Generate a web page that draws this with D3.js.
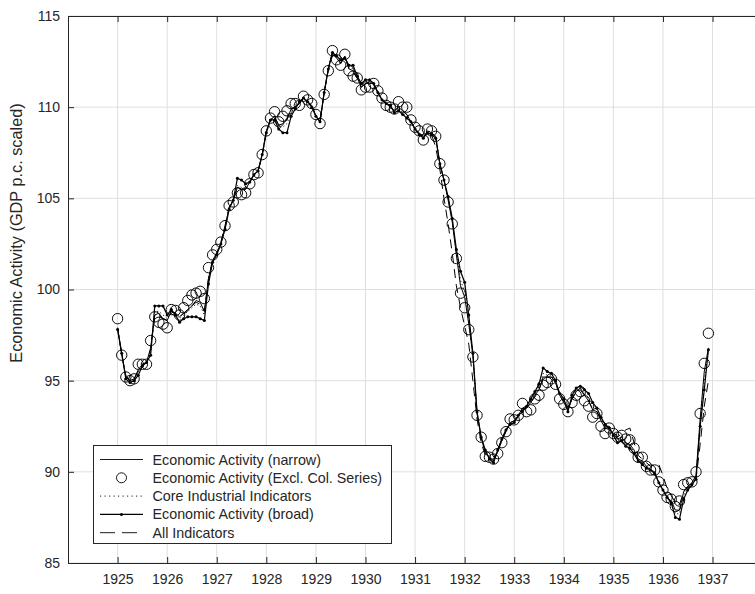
<!DOCTYPE html>
<html>
<head>
<meta charset="utf-8">
<script src="https://cdn.jsdelivr.net/npm/d3@7"></script>
<style>
  html, body { margin: 0; padding: 0; background: #fff; }
  svg { display: block; }
  text { font-family: "Liberation Sans", Arial, Helvetica, sans-serif; fill: #262626; }
</style>
</head>
<body>
<svg id="chart" width="755" height="594"></svg>
<script>
// ---- Data (monthly, Jan 1925 .. Dec 1936) ----
const startYear = 1925;
const xTicks = [1925, 1926, 1927, 1928, 1929, 1930, 1931, 1932, 1933, 1934, 1935, 1936, 1937];
const yTicks = [85, 90, 95, 100, 105, 110, 115];
const seriesNames = ["Economic Activity (narrow)", "Economic Activity (Excl. Col. Series)",
                     "Core Industrial Indicators", "Economic Activity (broad)", "All Indicators"];

const narrow = [
  97.9, 96.5, 95.2, 95.0, 95.1, 95.6, 95.9, 96.0, 96.8, 98.6, 98.7, 98.4,
  98.3, 98.8, 98.7, 98.5, 98.7, 98.9, 99.1, 99.4, 99.3, 98.8, 100.6, 101.6,
  102.0, 102.5, 103.4, 104.5, 104.9, 105.6, 105.5, 105.5, 105.9, 106.3, 106.5, 107.4,
  108.7, 109.3, 109.5, 109.0, 109.1, 109.3, 109.9, 110.0, 110.2, 110.5, 110.3, 110.1,
  109.5, 109.2, 110.8, 112.1, 113.0, 112.7, 112.4, 112.8, 112.1, 112.0, 111.6, 111.1,
  111.3, 111.3, 111.3, 110.8, 110.4, 110.2, 110.0, 109.8, 110.0, 109.8, 109.6, 109.2,
  108.8, 108.6, 108.3, 108.7, 108.6, 108.4, 106.9, 106.0, 104.9, 103.7, 101.9, 100.2,
  99.6, 98.1, 96.4, 93.2, 91.9, 91.0, 90.8, 90.6, 91.1, 91.7, 92.2, 92.7,
  92.8, 93.1, 93.5, 93.5, 93.8, 94.2, 94.5, 95.2, 95.2, 95.2, 94.9, 94.2,
  93.8, 93.4, 94.0, 94.4, 94.6, 94.2, 93.9, 93.4, 93.3, 92.8, 92.4, 92.4,
  92.1, 91.8, 91.9, 91.6, 91.5, 91.2, 90.7, 90.6, 90.3, 90.1, 90.0, 89.4,
  89.0, 88.6, 88.4, 87.9, 87.9, 88.9, 89.2, 89.4, 89.8, 92.9, 95.5, 96.8
];
const exclCol = [
  98.4, 96.4, 95.2, 95.0, 95.1, 95.9, 95.9, 95.9, 97.2, 98.5, 98.2, 98.1,
  97.9, 98.9, 98.85, 98.6, 99.0, 99.4, 99.7, 99.8, 99.9, 99.5, 101.2, 101.9,
  102.2, 102.6, 103.5, 104.6, 104.8, 105.3, 105.2, 105.3, 105.8, 106.3, 106.4, 107.4,
  108.7, 109.4, 109.75, 109.2, 109.5, 109.8, 110.2, 110.2, 110.1, 110.6, 110.4, 110.2,
  109.6, 109.1, 110.7, 112.0, 113.1, 112.6, 112.3, 112.9, 112.0, 111.7, 111.6, 110.95,
  111.1, 111.1, 111.3, 110.9, 110.5, 110.1, 110.0, 109.9, 110.3, 110.0, 110.0, 109.3,
  108.9, 108.7, 108.2, 108.8, 108.7, 108.4, 106.9, 106.0, 104.8, 103.6, 101.7, 99.8,
  99.0, 97.8, 96.3, 93.1, 91.9, 90.85, 90.8, 90.7, 91.0, 91.6, 92.2, 92.9,
  92.85, 93.1, 93.75, 93.3, 93.4, 94.0, 94.2, 94.75, 94.9, 95.1, 94.8, 94.0,
  93.7, 93.3, 93.8, 94.2, 94.4, 93.9, 93.6, 93.0, 93.2, 92.5, 92.1, 92.4,
  92.1, 91.9, 92.0, 91.8, 91.75, 91.3, 90.8, 90.8, 90.3, 90.1, 90.1, 89.45,
  89.0, 88.6, 88.5, 88.1, 88.4, 89.3, 89.4, 89.45, 90.0, 93.2, 95.95, 97.6
];
const coreInd = [
  97.8, 96.5, 95.2, 95.0, 95.1, 95.5, 95.8, 96.0, 96.6, 98.8, 98.8, 98.6,
  98.4, 98.8, 98.6, 98.4, 98.6, 98.8, 99.0, 99.2, 99.1, 98.6, 100.5, 101.6,
  101.9, 102.5, 103.4, 104.5, 104.9, 105.7, 105.6, 105.5, 105.9, 106.3, 106.5, 107.4,
  108.6, 109.3, 109.4, 108.9, 108.9, 109.1, 109.7, 110.0, 110.2, 110.5, 110.3, 110.1,
  109.5, 109.2, 110.8, 112.1, 113.0, 112.8, 112.5, 112.7, 112.2, 112.1, 111.6, 111.2,
  111.4, 111.4, 111.3, 110.8, 110.4, 110.2, 110.1, 109.8, 109.9, 109.7, 109.5, 109.2,
  108.8, 108.6, 108.3, 108.7, 108.6, 108.4, 106.9, 106.0, 105.0, 103.8, 102.0, 100.5,
  99.9, 98.3, 96.4, 93.2, 91.9, 91.1, 90.8, 90.6, 91.1, 91.7, 92.2, 92.7,
  92.8, 93.1, 93.4, 93.5, 93.9, 94.3, 94.6, 95.4, 95.3, 95.3, 94.9, 94.2,
  93.9, 93.4, 94.1, 94.5, 94.6, 94.3, 94.0, 93.6, 93.4, 92.9, 92.5, 92.4,
  92.1, 91.7, 91.8, 91.5, 91.4, 91.1, 90.7, 90.5, 90.3, 90.1, 89.9, 89.4,
  89.0, 88.6, 88.4, 87.7, 87.7, 88.7, 89.1, 89.4, 89.7, 92.7, 95.0, 96.7
];
const broad = [
  97.8, 96.5, 95.1, 94.9, 95.0, 95.3, 95.8, 96.0, 96.4, 99.1, 99.1, 99.1,
  98.6, 98.9, 98.6, 98.2, 98.4, 98.5, 98.5, 98.5, 98.4, 98.3, 100.3, 101.5,
  101.9, 102.5, 103.3, 104.4, 104.9, 106.1, 106.0, 105.8, 105.9, 106.3, 106.5, 107.4,
  108.6, 109.3, 109.3, 108.8, 108.6, 108.6, 109.5, 109.9, 110.3, 110.5, 110.3, 110.0,
  109.5, 109.2, 110.8, 112.1, 113.0, 112.8, 112.6, 112.7, 112.3, 112.3, 111.7, 111.3,
  111.5, 111.5, 111.3, 110.8, 110.4, 110.2, 110.1, 109.7, 109.8, 109.6, 109.4, 109.2,
  108.8, 108.5, 108.3, 108.6, 108.5, 108.3, 106.9, 106.0, 105.1, 103.9, 102.2, 101.0,
  100.4, 98.6, 96.5, 93.3, 91.9, 91.2, 90.7, 90.5, 91.2, 91.8, 92.3, 92.6,
  92.7, 93.1, 93.3, 93.6, 94.0, 94.4, 94.8, 95.7, 95.5, 95.4, 95.0, 94.3,
  94.0, 93.3, 94.2, 94.6, 94.7, 94.5, 94.3, 93.8, 93.5, 93.0, 92.6, 92.4,
  92.0, 91.6, 91.7, 91.4, 91.3, 91.0, 90.6, 90.4, 90.2, 90.1, 89.9, 89.4,
  89.0, 88.6, 88.3, 87.5, 87.4, 88.5, 89.0, 89.3, 89.6, 92.5, 94.5, 96.7
];
const allInd = [
  97.9, 96.4, 95.3, 95.0, 95.1, 95.5, 95.9, 96.0, 96.7, 98.6, 98.6, 98.4,
  98.3, 98.8, 98.7, 98.5, 98.7, 98.9, 99.1, 99.3, 99.2, 98.8, 100.6, 101.6,
  102.0, 102.6, 103.5, 104.5, 104.9, 105.6, 105.5, 105.5, 105.9, 106.3, 106.5, 107.3,
  108.7, 109.3, 109.5, 109.0, 109.1, 109.4, 109.9, 110.0, 110.2, 110.5, 110.3, 110.1,
  109.5, 109.3, 110.8, 112.0, 112.9, 112.7, 112.4, 112.8, 112.1, 111.9, 111.6, 111.1,
  111.3, 111.3, 111.2, 110.8, 110.4, 110.2, 110.0, 109.8, 110.0, 109.8, 109.6, 109.2,
  108.8, 108.6, 108.4, 108.6, 108.5, 107.8, 106.6, 105.0, 103.6, 102.0, 100.2, 99.0,
  98.0, 97.0, 95.0, 92.9, 91.6, 90.9, 90.7, 90.7, 91.2, 91.8, 92.3, 92.7,
  92.8, 93.0, 93.4, 93.5, 93.8, 94.1, 94.5, 95.1, 95.2, 95.2, 94.9, 94.3,
  93.9, 93.5, 94.0, 94.4, 94.5, 94.2, 93.9, 93.4, 93.3, 92.9, 92.5, 92.5,
  92.2, 91.9, 92.1, 92.3, 92.4, 91.6, 90.9, 90.7, 90.5, 90.3, 90.4, 90.4,
  89.8, 89.1, 88.7, 88.3, 88.2, 88.9, 89.2, 89.4, 89.6, 91.5, 93.6, 95.0
];

// ---- Layout ----
const W = 755, H = 594;
const pLeft = 68, pTop = 16, pBottom = 563;
const svg = d3.select("#chart");

const x = d3.scaleLinear().domain([1924, 1938]).range([pLeft, pLeft + 14 * 49.58]);
const y = d3.scaleLinear().domain([85, 115]).range([pBottom, pTop]);
const tOf = i => startYear + i / 12;

svg.append("defs").append("clipPath").attr("id", "plotclip")
  .append("rect").attr("x", pLeft).attr("y", pTop).attr("width", W - pLeft).attr("height", pBottom - pTop);

// grid
const grid = svg.append("g");
grid.selectAll("line.gx").data(xTicks).join("line")
  .attr("x1", d => x(d)).attr("x2", d => x(d)).attr("y1", pTop).attr("y2", pBottom)
  .attr("stroke", "#dfdfdf").attr("stroke-width", 1);
grid.selectAll("line.gy").data(yTicks).join("line")
  .attr("x1", pLeft).attr("x2", W).attr("y1", d => y(d)).attr("y2", d => y(d))
  .attr("stroke", "#dfdfdf").attr("stroke-width", 1);

// axes
const axCol = "#262626";
const xAxisB = svg.append("g").attr("transform", `translate(0,${pBottom})`)
  .call(d3.axisBottom(x).tickValues(xTicks).tickFormat(d3.format("d"))
        .tickSizeInner(-6).tickSizeOuter(0).tickPadding(11));
const xAxisT = svg.append("g").attr("transform", `translate(0,${pTop})`)
  .call(d3.axisTop(x).tickValues(xTicks).tickFormat("").tickSizeInner(-6).tickSizeOuter(0));
const yAxisL = svg.append("g").attr("transform", `translate(${pLeft},0)`)
  .call(d3.axisLeft(y).tickValues(yTicks).tickSizeInner(-6).tickSizeOuter(0).tickPadding(8));
[xAxisB, xAxisT, yAxisL].forEach(g => {
  g.select(".domain").attr("stroke", axCol);
  g.selectAll(".tick line").attr("stroke", axCol);
  g.selectAll("text").attr("fill", axCol).style("font-size", "14px")
    .style("font-family", '"Liberation Sans", Arial, sans-serif');
});
svg.append("line").attr("x1", pLeft).attr("x2", W).attr("y1", pTop + 0.5).attr("y2", pTop + 0.5).attr("stroke", axCol);
svg.append("line").attr("x1", pLeft).attr("x2", W).attr("y1", pBottom + 0.5).attr("y2", pBottom + 0.5).attr("stroke", axCol);

// y label
svg.append("text")
  .attr("transform", `translate(22,233) rotate(-90)`)
  .attr("text-anchor", "middle")
  .style("font-size", "16.3px")
  .text("Economic Activity (GDP p.c. scaled)");

// data
const plot = svg.append("g").attr("clip-path", "url(#plotclip)");
const line = d3.line().x((d, i) => x(tOf(i))).y(d => y(d));

plot.append("path").datum(narrow).attr("d", line)
  .attr("fill", "none").attr("stroke", "#000").attr("stroke-width", 1);
plot.append("path").datum(coreInd).attr("d", line)
  .attr("fill", "none").attr("stroke", "#000").attr("stroke-width", 0.9).attr("stroke-dasharray", "1.2,2.5");
plot.append("path").datum(broad).attr("d", line)
  .attr("fill", "none").attr("stroke", "#000").attr("stroke-width", 1.2);
plot.selectAll("circle.bd").data(broad).join("circle").attr("class", "bd")
  .attr("cx", (d, i) => x(tOf(i))).attr("cy", d => y(d)).attr("r", 1.5).attr("fill", "#000");
plot.append("path").datum(allInd).attr("d", line)
  .attr("fill", "none").attr("stroke", "#000").attr("stroke-width", 1).attr("stroke-dasharray", "9,6");
plot.selectAll("circle.ex").data(exclCol).join("circle").attr("class", "ex")
  .attr("cx", (d, i) => x(tOf(i))).attr("cy", d => y(d)).attr("r", 5.2)
  .attr("fill", "none").attr("stroke", "#000").attr("stroke-width", 0.95);

// legend
const lg = svg.append("g");
const lx0 = 93, ly0 = 445, lw = 298, lh = 98;
lg.append("rect").attr("x", lx0 + 0.5).attr("y", ly0 + 0.5).attr("width", lw).attr("height", lh)
  .attr("fill", "#fff").attr("stroke", axCol).attr("stroke-width", 1);
const rowY = i => 459.5 + i * 18.3;
const sx1 = 100, sx2 = 143, smid = 121.5;
seriesNames.forEach((name, i) => {
  const yy = rowY(i);
  if (i !== 1) {
    const l = lg.append("line").attr("x1", sx1).attr("x2", sx2).attr("y1", yy).attr("y2", yy)
      .attr("stroke", "#000").attr("stroke-width", i === 3 ? 1.1 : 0.9);
    if (i === 2) l.attr("stroke-dasharray", "1.2,3.3");
    if (i === 4) l.attr("stroke-dasharray", "15,7");
  }
  if (i === 1) lg.append("circle").attr("cx", smid).attr("cy", yy).attr("r", 5)
    .attr("fill", "none").attr("stroke", "#000").attr("stroke-width", 0.9);
  if (i === 3) lg.append("circle").attr("cx", smid).attr("cy", yy).attr("r", 1.5).attr("fill", "#000");
  lg.append("text").attr("x", 152.5).attr("y", yy).attr("dy", "0.35em")
    .style("font-size", "14.3px").text(name);
});
</script>
</body>
</html>
